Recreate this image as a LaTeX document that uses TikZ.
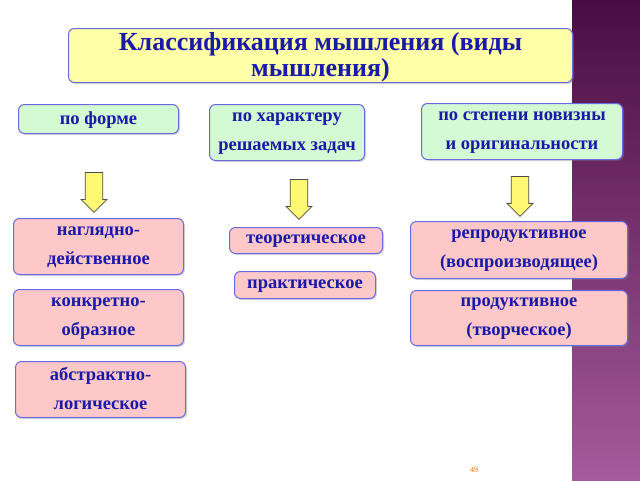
\documentclass[tikz,border=0pt]{standalone}
\usepackage{fontspec}
\setmainfont{Liberation Serif}
\usetikzlibrary{shapes.arrows,shadows}
\definecolor{tx}{HTML}{1A1AA8}
\definecolor{bd}{HTML}{6A6AE0}
\definecolor{ttl}{HTML}{FFFFA8}
\definecolor{grn}{HTML}{D4FAD4}
\definecolor{pnk}{HTML}{FFC8C8}
\definecolor{ptop}{HTML}{4A0C42}
\definecolor{pbot}{HTML}{A45A9C}
\tikzset{
 bx/.style={draw=bd,line width=1pt,rounded corners=6pt,text=tx,font=\bfseries\fontsize{18.5}{29}\selectfont,align=center,inner sep=0pt,anchor=north west,text depth=2pt,drop shadow={shadow xshift=1.5pt,shadow yshift=-1.5pt,opacity=0.3}},
 cat/.style={bx,fill=grn},
 itm/.style={bx,fill=pnk},
 arr/.style={single arrow,draw=black!70,fill=yellow!55,shape border rotate=270,minimum width=26pt,single arrow head extend=4pt,single arrow tip angle=90,minimum height=40pt,inner sep=8pt,line width=0.8pt}
}
\begin{document}
\begin{tikzpicture}[x=1pt,y=-1pt]
\useasboundingbox (0,0) rectangle (640,480);
\fill[white] (0,0) rectangle (640,480);
\shade[top color=ptop, bottom color=pbot] (572,0) rectangle (640,480);
\node[bx,fill=ttl,minimum width=504pt,minimum height=54pt,font=\bfseries\fontsize{26}{26}\selectfont] (t) at (68,28) {Классификация мышления (виды\\мышления)};
\node[cat,minimum width=160pt,minimum height=29pt] (c1) at (18,104) {по форме};
\node[cat,minimum width=155pt,minimum height=56pt] (c2) at (209,104) {по характеру\\решаемых задач};
\node[cat,minimum width=201pt,minimum height=56pt] (c3) at (421,103) {по степени новизны\\и оригинальности};
\node[arr] (a1) at (94,188) {};
\node[arr] (a2) at (299,195) {};
\node[arr] (a3) at (520,192) {};
\node[itm,minimum width=170pt,minimum height=56pt] (i1) at (13,218) {наглядно-\\действенное};
\node[itm,minimum width=153pt,minimum height=26pt] (i2) at (229,227) {теоретическое};
\node[itm,minimum width=217pt,minimum height=57pt] (i3) at (410,221) {репродуктивное\\(воспроизводящее)};
\node[itm,minimum width=141pt,minimum height=27pt] (i4) at (234,271) {практическое};
\node[itm,minimum width=170pt,minimum height=56pt] (i5) at (13,289) {конкретно-\\образное};
\node[itm,minimum width=217pt,minimum height=55pt] (i6) at (410,290) {продуктивное\\(творческое)};
\node[itm,minimum width=170pt,minimum height=56pt] (i7) at (15,361) {абстрактно-\\логическое};
\node[text=orange!80!red,font=\fontsize{8}{9}\selectfont] (pg) at (474,470) {49};
\end{tikzpicture}
\end{document}
